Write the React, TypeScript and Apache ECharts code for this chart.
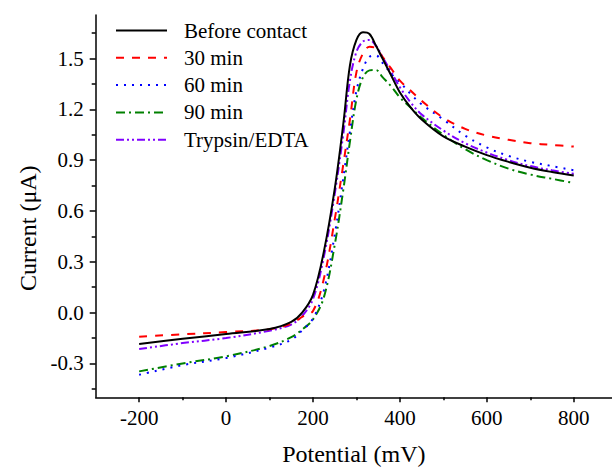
import React, { useEffect, useRef } from "react";
import * as echarts from "echarts";

const potential = [-200, -100, 0, 100, 150, 175, 200, 225, 250, 270, 285, 300, 315, 330, 345, 360, 380, 400, 425, 450, 500, 550, 600, 650, 700, 750, 800];

const beforeContact = [-0.185, -0.155, -0.126, -0.097, -0.055, 0.0, 0.105, 0.36, 0.73, 1.12, 1.46, 1.61, 1.655, 1.645, 1.575, 1.5, 1.4, 1.3, 1.21, 1.14, 1.04, 0.98, 0.93, 0.89, 0.855, 0.83, 0.81];
const min30 = [-0.142, -0.128, -0.115, -0.098, -0.065, -0.025, 0.01, 0.2, 0.55, 0.88, 1.14, 1.42, 1.53, 1.57, 1.56, 1.51, 1.44, 1.37, 1.31, 1.25, 1.15, 1.085, 1.045, 1.02, 1.0, 0.99, 0.98];
const min60 = [-0.367, -0.31, -0.268, -0.207, -0.16, -0.105, -0.035, 0.13, 0.46, 0.8, 1.07, 1.31, 1.44, 1.51, 1.518, 1.475, 1.41, 1.36, 1.29, 1.23, 1.14, 1.045, 0.975, 0.925, 0.89, 0.865, 0.84];
const min90 = [-0.347, -0.3, -0.258, -0.197, -0.145, -0.1, -0.04, 0.09, 0.4, 0.73, 1.01, 1.26, 1.39, 1.43, 1.432, 1.39, 1.335, 1.27, 1.21, 1.15, 1.05, 0.965, 0.9, 0.85, 0.815, 0.79, 0.765];
const trypsin = [-0.215, -0.18, -0.15, -0.107, -0.07, -0.02, 0.08, 0.33, 0.7, 1.06, 1.37, 1.54, 1.6, 1.61, 1.575, 1.51, 1.42, 1.33, 1.24, 1.17, 1.075, 1.0, 0.945, 0.9, 0.865, 0.84, 0.82];

const seriesNames = ["Before contact", "30 min", "60 min", "90 min", "Trypsin/EDTA"];

const xMajorTicks = [-200, 0, 200, 400, 600, 800];
const xMinorTicks = [-100, 100, 300, 500, 700];
const yMajorTicks = [-0.3, 0, 0.3, 0.6, 0.9, 1.2, 1.5];
const yMinorTicks = [-0.45, -0.15, 0.15, 0.45, 0.75, 1.05, 1.35, 1.65];

const FONT = "'Liberation Serif', 'Times New Roman', serif";

export default function App() {
  const ref = useRef<HTMLDivElement>(null);
  useEffect(() => {
    if (!ref.current) return;
    const chart = echarts.init(ref.current, undefined, { renderer: "svg" });
    const pair = (ys: number[]) => potential.map((x, i) => [x, ys[i]]);
    const styles = [
      { color: "#000000", type: "solid" as any },
      { color: "#ff0000", type: [8, 8] },
      { color: "#0000ff", type: [2, 6] },
      { color: "#008000", type: [9, 4, 2, 4] },
      { color: "#8000ff", type: [8, 3, 2, 3, 2, 3] },
    ];
    const datas = [beforeContact, min30, min60, min90, trypsin];
    const xMin = -300;
    const xMax = 888;
    const yMin = -0.5;
    const yMax = 1.757;
    const axisLineStyle = { color: "#000", width: 1.5 };
    chart.setOption({
      animation: false,
      backgroundColor: "#fff",
      grid: { left: 95.7, right: 0, top: 15, bottom: 70.7, containLabel: false, outerBoundsMode: "none" },
      legend: {
        orient: "vertical",
        left: 115,
        top: 20,
        padding: 0,
        itemWidth: 51,
        itemHeight: 14,
        itemGap: 6.3,
        itemStyle: { opacity: 0 },
        textStyle: {
          fontFamily: FONT,
          fontSize: 21,
          lineHeight: 21,
          color: "#000",
          padding: [0, 0, 0, 12],
        },
        data: seriesNames,
      },
      xAxis: [
        {
          type: "value",
          min: xMin,
          max: xMax,
          position: "bottom",
          axisLine: { show: true, onZero: false, lineStyle: axisLineStyle },
          axisTick: { show: true, customValues: xMajorTicks, length: 5, lineStyle: axisLineStyle },
          axisLabel: {
            customValues: xMajorTicks,
            fontFamily: FONT,
            fontSize: 21,
            color: "#000",
            margin: 10,
          },
          splitLine: { show: false },
          name: "Potential (mV)",
          nameLocation: "middle",
          nameGap: 45,
          nameTextStyle: { fontFamily: FONT, fontSize: 24, lineHeight: 24, color: "#000" },
        },
        {
          type: "value",
          min: xMin,
          max: xMax,
          position: "bottom",
          axisLine: { show: false, onZero: false },
          axisTick: { show: true, customValues: xMinorTicks, length: 3, lineStyle: axisLineStyle },
          axisLabel: { show: false },
          splitLine: { show: false },
        },
      ],
      yAxis: [
        {
          type: "value",
          min: yMin,
          max: yMax,
          position: "left",
          axisLine: { show: true, onZero: false, lineStyle: axisLineStyle },
          axisTick: { show: true, customValues: yMajorTicks, length: 6, lineStyle: axisLineStyle },
          axisLabel: {
            customValues: yMajorTicks,
            formatter: (v: number) => v.toFixed(1),
            fontFamily: FONT,
            fontSize: 21,
            color: "#000",
            margin: 12,
          },
          splitLine: { show: false },
          name: "Current (\u03bcA)",
          nameLocation: "middle",
          nameGap: 56,
          nameTextStyle: { fontFamily: FONT, fontSize: 24, color: "#000", padding: [0, 44, 0, 0] },
        },
        {
          type: "value",
          min: yMin,
          max: yMax,
          position: "left",
          axisLine: { show: false, onZero: false },
          axisTick: { show: true, customValues: yMinorTicks, length: 4, lineStyle: axisLineStyle },
          axisLabel: { show: false },
          splitLine: { show: false },
        },
      ],
      series: seriesNames.map((name, i) => ({
        name,
        type: "line",
        xAxisIndex: 0,
        yAxisIndex: 0,
        data: pair(datas[i]),
        smooth: 0.35,
        showSymbol: false,
        symbol: "none",
        color: styles[i].color,
        lineStyle: { color: styles[i].color, width: 2, type: styles[i].type },
        z: 10 - i,
      })),
    });
    return () => chart.dispose();
  }, []);
  return (
    <div
      ref={ref}
      style={{ position: "fixed", left: 0, top: 0, width: 612, height: 468, background: "#fff" }}
    />
  );
}
